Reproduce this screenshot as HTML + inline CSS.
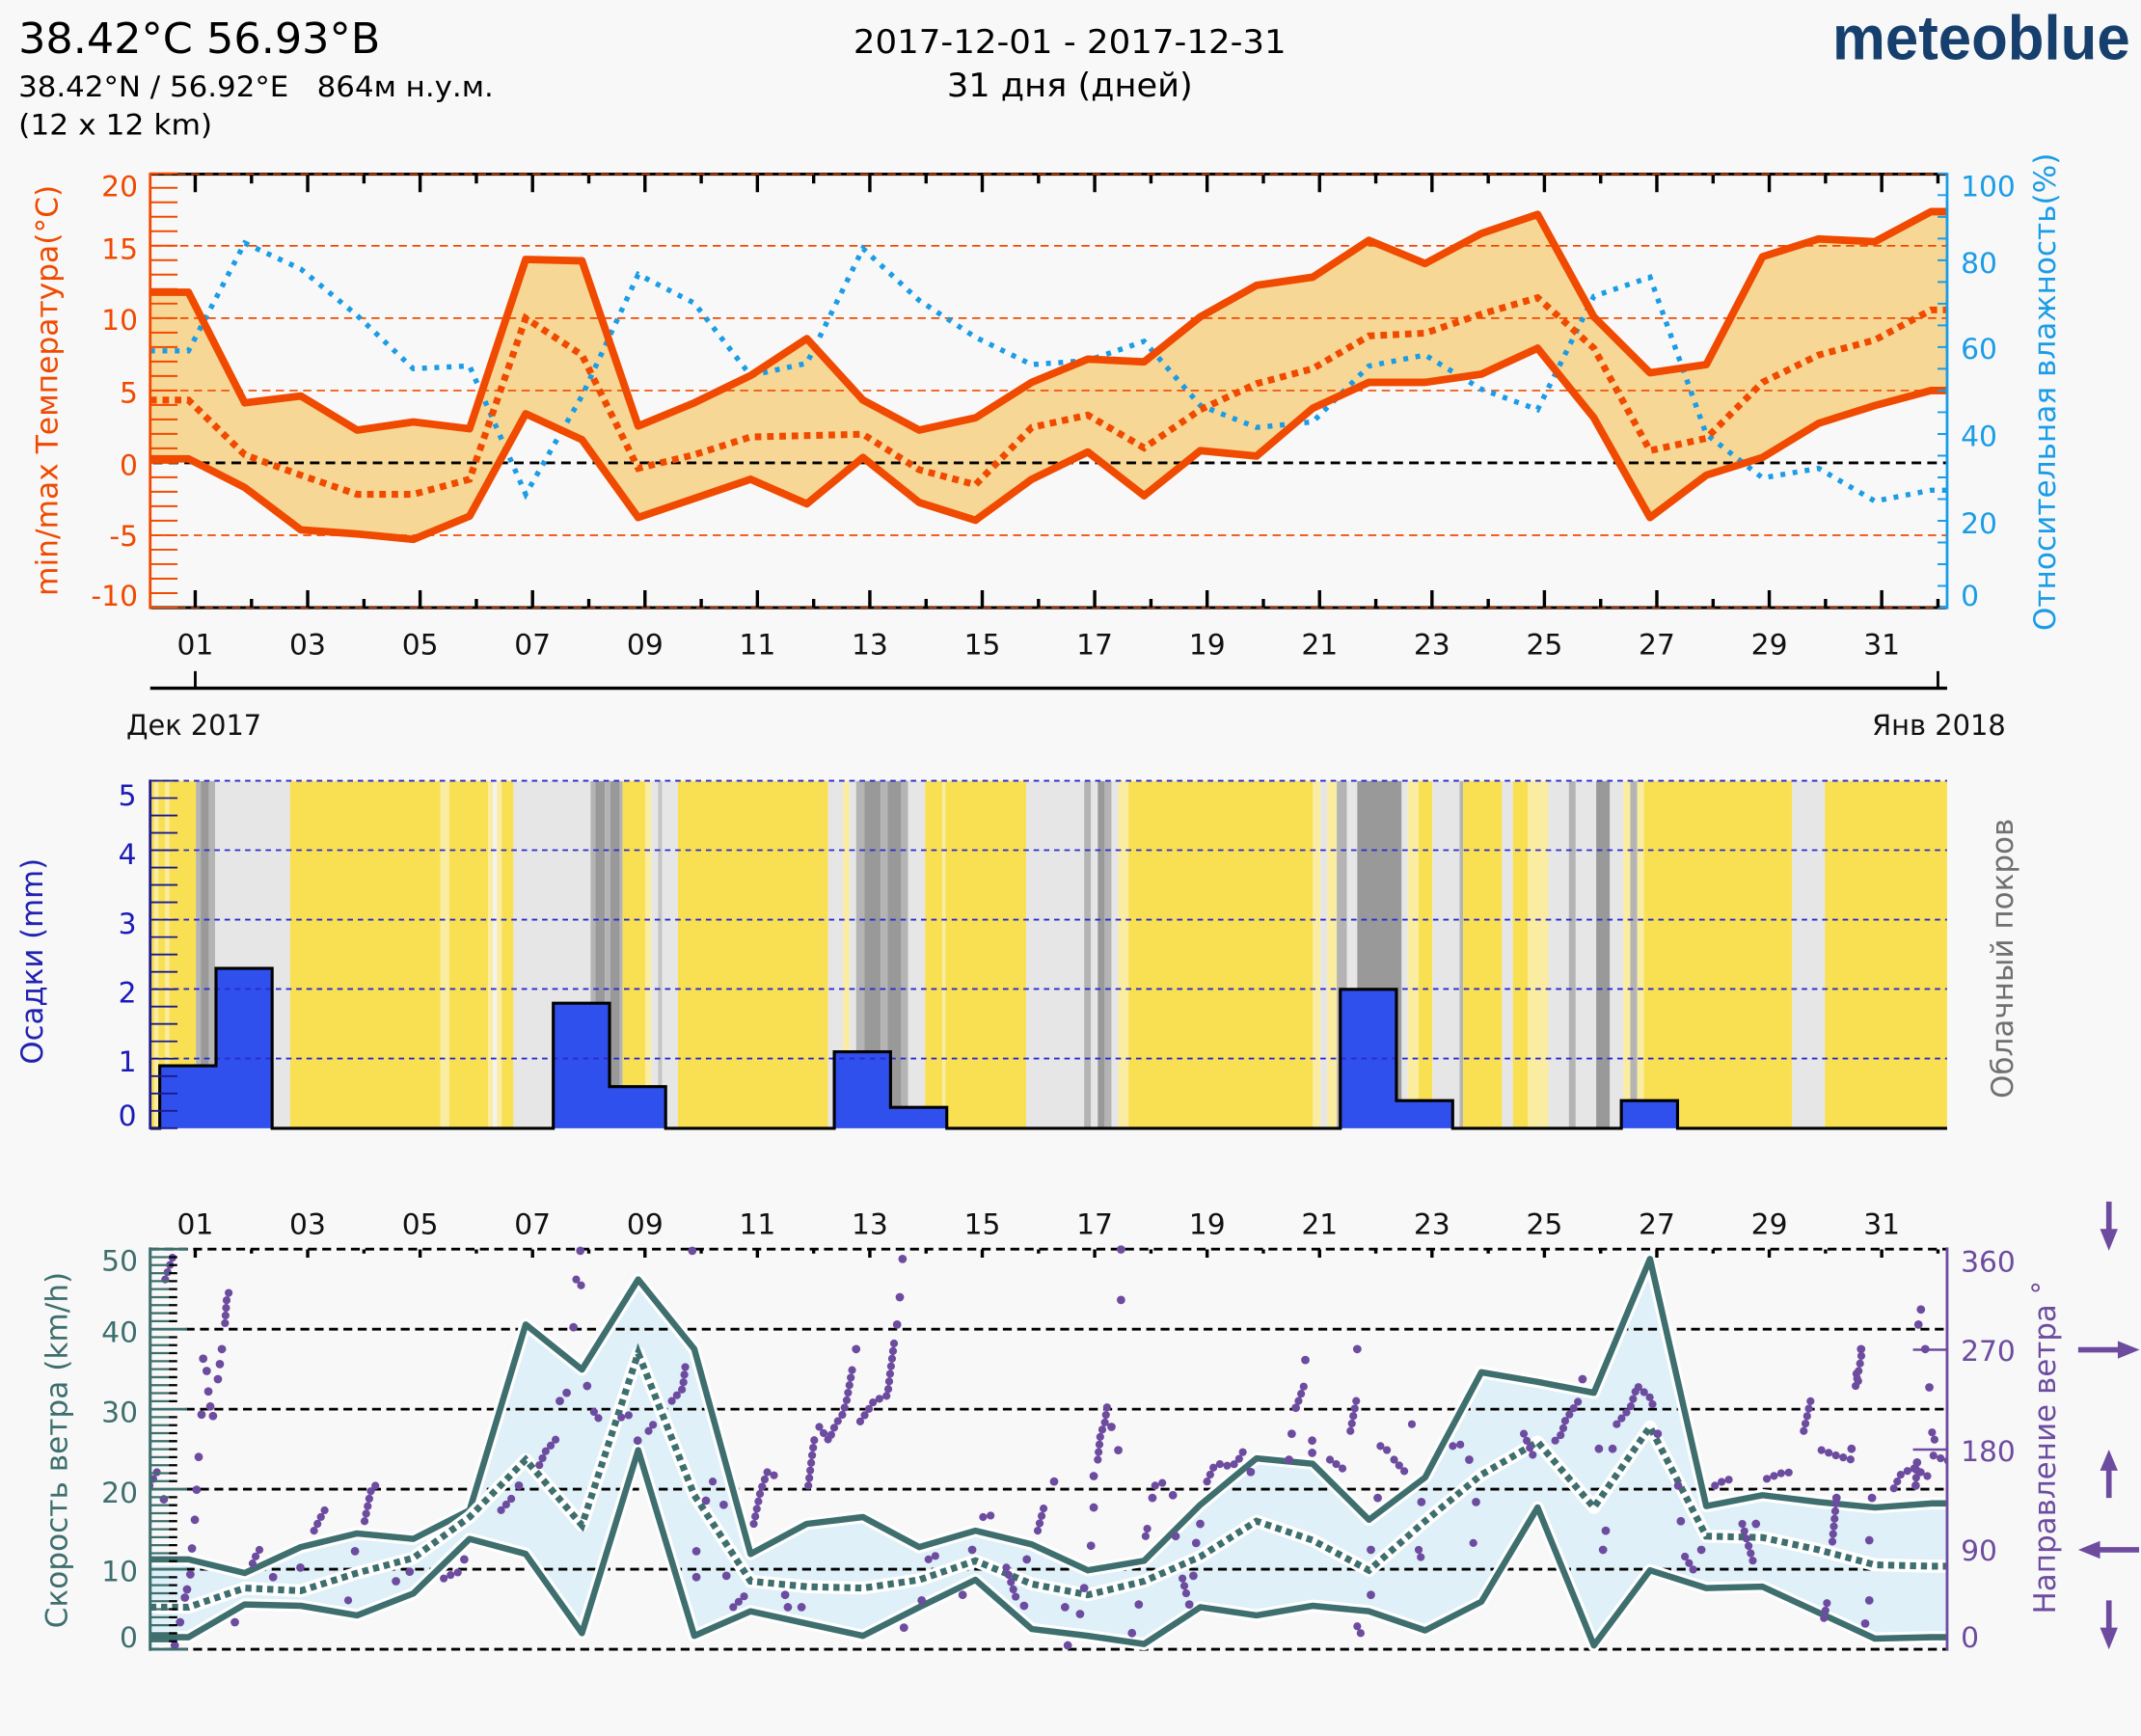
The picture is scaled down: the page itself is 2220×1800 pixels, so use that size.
<!DOCTYPE html>
<html><head><meta charset="utf-8"><style>
html,body{margin:0;padding:0;background:#f8f8f8;}
svg{display:block;}
text{font-family:"DejaVu Sans","Liberation Sans",sans-serif;}
</style></head><body>
<svg xmlns="http://www.w3.org/2000/svg" width="2220" height="1800" viewBox="0 0 1568 1271.35" preserveAspectRatio="none">
<defs>
<clipPath id="cw"><rect x="110" y="912" width="1316" height="298"/></clipPath>
</defs>
<rect width="1568" height="1271.35" fill="#f8f8f8"/>

<!-- HEADER -->
<text x="13.5" y="38.8" font-size="31" textLength="265" lengthAdjust="spacingAndGlyphs" fill="#000">38.42°C 56.93°B</text>
<text x="13.5" y="70.6" font-size="21" textLength="348" lengthAdjust="spacingAndGlyphs" fill="#000" style="white-space:pre">38.42°N / 56.92°E   864м н.у.м.</text>
<text x="13.5" y="98.4" font-size="21" textLength="142" lengthAdjust="spacingAndGlyphs" fill="#000">(12 x 12 km)</text>
<text x="783.5" y="38.8" text-anchor="middle" font-size="24" textLength="317" lengthAdjust="spacingAndGlyphs" fill="#000">2017-12-01 - 2017-12-31</text>
<text x="783.5" y="70.6" text-anchor="middle" font-size="24" textLength="180" lengthAdjust="spacingAndGlyphs" fill="#000">31 дня (дней)</text>
<text x="1342" y="43.6" font-weight="bold" font-size="46" textLength="218" lengthAdjust="spacingAndGlyphs" fill="#163f6e" style="font-family:'Liberation Sans',sans-serif">meteoblue</text>

<!-- ========== TOP CHART ========== -->
<polygon fill="#f7d795" points="110,214 138,214 179.2,295 220.3,290 261.5,315 302.7,309 343.9,314 385,190 426.2,191 467.4,312 508.5,295 549.7,275 590.9,248 632,293 673.2,315 714.4,306 755.6,280 796.7,263 837.9,265 879.1,232 920.2,209 961.4,203 1002.6,176 1043.7,193 1084.9,171 1126.1,157 1167.3,232 1208.4,273 1249.6,267 1290.8,188 1331.9,175 1373.1,177 1414.3,155 1426,155 1426,286 1414.3,286 1373.1,297 1331.9,310 1290.8,335 1249.6,348 1208.4,379 1167.3,306 1126.1,255 1084.9,274 1043.7,280 1002.6,280 961.4,299 920.2,334 879.1,330 837.9,363 796.7,331 755.6,351 714.4,381 673.2,368 632,335 590.9,369 549.7,351 508.5,365 467.4,379 426.2,322 385,303 343.9,378 302.7,395 261.5,391 220.3,388 179.2,357 138,336 110,336"/>
<g stroke="#f04a00" stroke-width="1.2" stroke-dasharray="6 4" fill="none">
<line x1="112" y1="180" x2="1426" y2="180"/>
<line x1="112" y1="233" x2="1426" y2="233"/>
<line x1="112" y1="286" x2="1426" y2="286"/>
<line x1="112" y1="392" x2="1426" y2="392"/>
</g>
<line x1="112" y1="339" x2="1426" y2="339" stroke="#000" stroke-width="2" stroke-dasharray="7 4.5"/>
<polyline fill="none" stroke="#1b9ce6" stroke-width="3.8" stroke-dasharray="3.5 5.5" points="110,257 138,257 179.2,178 220.3,197 261.5,231 302.7,270 343.9,268 385,362 426.2,290 467.4,201 508.5,222 549.7,275 590.9,266 632,182 673.2,220 714.4,247 755.6,267 796.7,264 837.9,250 879.1,297 920.2,313 961.4,309 1002.6,268 1043.7,260 1084.9,285 1126.1,300 1167.3,217 1208.4,203 1249.6,318 1290.8,350 1331.9,343 1373.1,367 1414.3,359 1426,359"/>
<polyline fill="none" stroke="#f04a00" stroke-width="5.5" stroke-linejoin="round" points="110,214 138,214 179.2,295 220.3,290 261.5,315 302.7,309 343.9,314 385,190 426.2,191 467.4,312 508.5,295 549.7,275 590.9,248 632,293 673.2,315 714.4,306 755.6,280 796.7,263 837.9,265 879.1,232 920.2,209 961.4,203 1002.6,176 1043.7,193 1084.9,171 1126.1,157 1167.3,232 1208.4,273 1249.6,267 1290.8,188 1331.9,175 1373.1,177 1414.3,155 1426,155"/>
<polyline fill="none" stroke="#f04a00" stroke-width="5.5" stroke-linejoin="round" points="110,336 138,336 179.2,357 220.3,388 261.5,391 302.7,395 343.9,378 385,303 426.2,322 467.4,379 508.5,365 549.7,351 590.9,369 632,335 673.2,368 714.4,381 755.6,351 796.7,331 837.9,363 879.1,330 920.2,334 961.4,299 1002.6,280 1043.7,280 1084.9,274 1126.1,255 1167.3,306 1208.4,379 1249.6,348 1290.8,335 1331.9,310 1373.1,297 1414.3,286 1426,286"/>
<polyline fill="none" stroke="#f04a00" stroke-width="5" stroke-dasharray="4.8 4.2" points="110,293 138,293 179.2,333 220.3,348 261.5,362 302.7,362 343.9,351 385,233 426.2,260 467.4,343 508.5,333 549.7,320 590.9,319 632,318 673.2,344 714.4,355 755.6,313 796.7,304 837.9,328 879.1,300 920.2,281 961.4,270 1002.6,246 1043.7,244 1084.9,230 1126.1,218 1167.3,255 1208.4,330 1249.6,321 1290.8,280 1331.9,260 1373.1,249 1414.3,227 1426,227"/>
<line x1="110" y1="127.5" x2="1426" y2="127.5" stroke="#000" stroke-width="2.2"/>
<line x1="110" y1="127.5" x2="1426" y2="127.5" stroke="#f04a00" stroke-width="1" stroke-dasharray="6 4"/>
<line x1="110" y1="445" x2="1426" y2="445" stroke="#000" stroke-width="2.2"/>
<line x1="110" y1="445" x2="1426" y2="445" stroke="#f04a00" stroke-width="1" stroke-dasharray="6 4"/>
<line x1="110" y1="126.5" x2="110" y2="446" stroke="#f04a00" stroke-width="2"/>
<line x1="1426" y1="126.5" x2="1426" y2="446" stroke="#1b9ce6" stroke-width="2"/>
<line x1="120" y1="126.25" x2="120" y2="446" stroke="#f04a00" stroke-width="20" stroke-dasharray="1.4 9.2"/>
<line x1="1422.5" y1="126.3" x2="1422.5" y2="446" stroke="#1b9ce6" stroke-width="7" stroke-dasharray="1.4 14.5"/>
<g stroke="#000" stroke-dasharray="2.4 79.94">
<line x1="141.8" y1="134.35" x2="1426" y2="134.35" stroke-width="12.7"/>
<line x1="183" y1="131.2" x2="1426" y2="131.2" stroke-width="6.4"/>
<line x1="141.8" y1="438.65" x2="1426" y2="438.65" stroke-width="12.7"/>
<line x1="183" y1="441.8" x2="1426" y2="441.8" stroke-width="6.4"/>
</g>
<g font-size="21" fill="#f04a00" text-anchor="end" dominant-baseline="central">
<text x="101" y="137">20</text><text x="101" y="183">15</text><text x="101" y="235">10</text><text x="101" y="288">5</text><text x="101" y="341">0</text><text x="101" y="393">-5</text><text x="101" y="437">-10</text>
</g>
<g font-size="21" fill="#1b9ce6" dominant-baseline="central">
<text x="1436" y="137">100</text><text x="1436" y="193">80</text><text x="1436" y="256">60</text><text x="1436" y="320">40</text><text x="1436" y="384">20</text><text x="1436" y="437">0</text>
</g>
<text transform="translate(35,286) rotate(-90)" text-anchor="middle" dominant-baseline="central" font-size="22" textLength="301" lengthAdjust="spacingAndGlyphs" fill="#f04a00">min/max Температура(°C)</text>
<text transform="translate(1498,287) rotate(-90)" text-anchor="middle" dominant-baseline="central" font-size="22" textLength="350" lengthAdjust="spacingAndGlyphs" fill="#1b9ce6">Относительная влажность(%)</text>

<g font-size="21" fill="#111" text-anchor="middle" dominant-baseline="central">
<text x="143" y="472.6">01</text><text x="225.3" y="472.6">03</text><text x="307.7" y="472.6">05</text><text x="390" y="472.6">07</text><text x="472.4" y="472.6">09</text><text x="554.7" y="472.6">11</text><text x="637" y="472.6">13</text><text x="719.4" y="472.6">15</text><text x="801.7" y="472.6">17</text><text x="884.1" y="472.6">19</text><text x="966.4" y="472.6">21</text><text x="1048.7" y="472.6">23</text><text x="1131.1" y="472.6">25</text><text x="1213.4" y="472.6">27</text><text x="1295.8" y="472.6">29</text><text x="1378.1" y="472.6">31</text>
</g>
<line x1="110" y1="504" x2="1426" y2="504" stroke="#000" stroke-width="2.4"/>
<line x1="143" y1="491.5" x2="143" y2="504" stroke="#000" stroke-width="2"/>
<line x1="1419.3" y1="491.5" x2="1419.3" y2="504" stroke="#000" stroke-width="2"/>
<text x="142" y="531.5" font-size="21" text-anchor="middle" dominant-baseline="central" textLength="99" lengthAdjust="spacingAndGlyphs" fill="#111">Дек 2017</text>
<text x="1420" y="531.5" font-size="21" text-anchor="middle" dominant-baseline="central" textLength="98" lengthAdjust="spacingAndGlyphs" fill="#111">Янв 2018</text>

<!-- ========== MIDDLE CHART ========== -->
<g>
<rect x="110" y="572" width="3" height="254" fill="#f9e052"/>
<rect x="113" y="572" width="3" height="254" fill="#faeca0"/>
<rect x="116" y="572" width="5" height="254" fill="#f9e052"/>
<rect x="121" y="572" width="3" height="254" fill="#faeca0"/>
<rect x="124" y="572" width="19.5" height="254" fill="#f9e052"/>
<rect x="143.5" y="572" width="3.5" height="254" fill="#b4b4b4"/>
<rect x="147" y="572" width="6" height="254" fill="#999999"/>
<rect x="153" y="572" width="4.5" height="254" fill="#b4b4b4"/>
<rect x="157.5" y="572" width="55" height="254" fill="#e6e6e6"/>
<rect x="212.5" y="572" width="110" height="254" fill="#f9e052"/>
<rect x="322.5" y="572" width="6.5" height="254" fill="#faeca0"/>
<rect x="329" y="572" width="28.5" height="254" fill="#f9e052"/>
<rect x="357.5" y="572" width="3.5" height="254" fill="#faeca0"/>
<rect x="361" y="572" width="3" height="254" fill="#f2f2ee"/>
<rect x="364" y="572" width="3.5" height="254" fill="#faeca0"/>
<rect x="367.5" y="572" width="8.5" height="254" fill="#f9e052"/>
<rect x="376" y="572" width="56.5" height="254" fill="#e6e6e6"/>
<rect x="432.5" y="572" width="3.5" height="254" fill="#b4b4b4"/>
<rect x="436" y="572" width="7" height="254" fill="#999999"/>
<rect x="443" y="572" width="4" height="254" fill="#b4b4b4"/>
<rect x="447" y="572" width="7" height="254" fill="#999999"/>
<rect x="454" y="572" width="2" height="254" fill="#b4b4b4"/>
<rect x="456" y="572" width="16.5" height="254" fill="#f9e052"/>
<rect x="472.5" y="572" width="4.5" height="254" fill="#faeca0"/>
<rect x="477" y="572" width="5" height="254" fill="#e6e6e6"/>
<rect x="482" y="572" width="3" height="254" fill="#c4c4c4"/>
<rect x="485" y="572" width="11.5" height="254" fill="#e6e6e6"/>
<rect x="496.5" y="572" width="110" height="254" fill="#f9e052"/>
<rect x="606.5" y="572" width="11" height="254" fill="#e6e6e6"/>
<rect x="617.5" y="572" width="4.5" height="254" fill="#faeca0"/>
<rect x="622" y="572" width="5" height="254" fill="#e6e6e6"/>
<rect x="627" y="572" width="6" height="254" fill="#b4b4b4"/>
<rect x="633" y="572" width="12" height="254" fill="#999999"/>
<rect x="645" y="572" width="5" height="254" fill="#b4b4b4"/>
<rect x="650" y="572" width="10" height="254" fill="#999999"/>
<rect x="660" y="572" width="5" height="254" fill="#b4b4b4"/>
<rect x="665" y="572" width="12.5" height="254" fill="#e6e6e6"/>
<rect x="677.5" y="572" width="12.5" height="254" fill="#f9e052"/>
<rect x="690" y="572" width="2.5" height="254" fill="#faeca0"/>
<rect x="692.5" y="572" width="59" height="254" fill="#f9e052"/>
<rect x="751.5" y="572" width="42.5" height="254" fill="#e6e6e6"/>
<rect x="794" y="572" width="5" height="254" fill="#b4b4b4"/>
<rect x="799" y="572" width="5" height="254" fill="#e6e6e6"/>
<rect x="804" y="572" width="5" height="254" fill="#999999"/>
<rect x="809" y="572" width="5" height="254" fill="#b4b4b4"/>
<rect x="814" y="572" width="5" height="254" fill="#e6e6e6"/>
<rect x="819" y="572" width="7.5" height="254" fill="#faeca0"/>
<rect x="826.5" y="572" width="135" height="254" fill="#f9e052"/>
<rect x="961.5" y="572" width="5.5" height="254" fill="#faeca0"/>
<rect x="967" y="572" width="5" height="254" fill="#e6e6e6"/>
<rect x="972" y="572" width="7" height="254" fill="#faeca0"/>
<rect x="979" y="572" width="7.5" height="254" fill="#b4b4b4"/>
<rect x="986.5" y="572" width="7.5" height="254" fill="#e6e6e6"/>
<rect x="994" y="572" width="32.5" height="254" fill="#999999"/>
<rect x="1026.5" y="572" width="4.5" height="254" fill="#e6e6e6"/>
<rect x="1031" y="572" width="8" height="254" fill="#faeca0"/>
<rect x="1039" y="572" width="10" height="254" fill="#f9e052"/>
<rect x="1049" y="572" width="20" height="254" fill="#e6e6e6"/>
<rect x="1069" y="572" width="2.5" height="254" fill="#b4b4b4"/>
<rect x="1071.5" y="572" width="28.5" height="254" fill="#f9e052"/>
<rect x="1100" y="572" width="8" height="254" fill="#e6e6e6"/>
<rect x="1108" y="572" width="11" height="254" fill="#f9e052"/>
<rect x="1119" y="572" width="15" height="254" fill="#faeca0"/>
<rect x="1134" y="572" width="15" height="254" fill="#e6e6e6"/>
<rect x="1149" y="572" width="5" height="254" fill="#b4b4b4"/>
<rect x="1154" y="572" width="15" height="254" fill="#e6e6e6"/>
<rect x="1169" y="572" width="10" height="254" fill="#999999"/>
<rect x="1179" y="572" width="10" height="254" fill="#e6e6e6"/>
<rect x="1189" y="572" width="5" height="254" fill="#faeca0"/>
<rect x="1194" y="572" width="5" height="254" fill="#b4b4b4"/>
<rect x="1199" y="572" width="5" height="254" fill="#faeca0"/>
<rect x="1204" y="572" width="108.5" height="254" fill="#f9e052"/>
<rect x="1312.5" y="572" width="24" height="254" fill="#e6e6e6"/>
<rect x="1336.5" y="572" width="89.5" height="254" fill="#f9e052"/>
</g>
<path fill="#3050ee" d="M117,826.3 V780.5 H158.2 V709.2 H199.3 V826.3 Z M405.2,826.3 V734.7 H446.4 V795.8 H487.5 V826.3 Z M611,826.3 V770.3 H652.2 V811 H693.4 V826.3 Z M981.6,826.3 V724.5 H1022.7 V806 H1063.9 V826.3 Z M1187.4,826.3 V806 H1228.6 V826.3 Z"/>
<g stroke="#2a2ad0" stroke-width="1.3" stroke-dasharray="4 3.5" fill="none">
<line x1="112" y1="571.8" x2="1426" y2="571.8"/>
<line x1="112" y1="622.6" x2="1426" y2="622.6"/>
<line x1="112" y1="673.5" x2="1426" y2="673.5"/>
<line x1="112" y1="724.3" x2="1426" y2="724.3"/>
<line x1="112" y1="775.2" x2="1426" y2="775.2"/>
</g>
<path fill="none" stroke="#000" stroke-width="2.2" d="M110,826.3 H117 V780.5 H158.2 V709.2 H199.3 V826.3 H405.2 V734.7 H446.4 V795.8 H487.5 V826.3 H611 V770.3 H652.2 V811 H693.4 V826.3 H981.6 V724.5 H1022.7 V806 H1063.9 V826.3 H1187.4 V806 H1228.6 V826.3 H1426"/>
<line x1="110" y1="571" x2="110" y2="827" stroke="#1a1a8c" stroke-width="2"/>
<line x1="120" y1="571.1" x2="120" y2="827" stroke="#1a1a8c" stroke-width="20" stroke-dasharray="1.3 11.425"/>
<g font-size="21" fill="#1a1ab8" text-anchor="end" dominant-baseline="central">
<text x="100" y="583">5</text><text x="100" y="626">4</text><text x="100" y="677">3</text><text x="100" y="727.5">2</text><text x="100" y="778">1</text><text x="100" y="817.5">0</text>
</g>
<text transform="translate(24,704) rotate(-90)" text-anchor="middle" dominant-baseline="central" font-size="22" textLength="151" lengthAdjust="spacingAndGlyphs" fill="#2222b0">Осадки (mm)</text>
<text transform="translate(1467,702) rotate(-90)" text-anchor="middle" dominant-baseline="central" font-size="22" textLength="205" lengthAdjust="spacingAndGlyphs" fill="#707070">Облачный покров</text>

<!-- ========== BOTTOM CHART ========== -->
<g font-size="21" fill="#111" text-anchor="middle" dominant-baseline="central">
<text x="143" y="897">01</text><text x="225.3" y="897">03</text><text x="307.7" y="897">05</text><text x="390" y="897">07</text><text x="472.4" y="897">09</text><text x="554.7" y="897">11</text><text x="637" y="897">13</text><text x="719.4" y="897">15</text><text x="801.7" y="897">17</text><text x="884.1" y="897">19</text><text x="966.4" y="897">21</text><text x="1048.7" y="897">23</text><text x="1131.1" y="897">25</text><text x="1213.4" y="897">27</text><text x="1295.8" y="897">29</text><text x="1378.1" y="897">31</text>
</g>
<polygon fill="#dff0f8" points="110,1142 138,1142 179.2,1152 220.3,1133 261.5,1123 302.7,1127 343.9,1106 385,970 426.2,1003 467.4,937 508.5,988 549.7,1138 590.9,1116 632,1111 673.2,1133 714.4,1121 755.6,1131 796.7,1150 837.9,1143 879.1,1102 920.2,1068 961.4,1072 1002.6,1113 1043.7,1082 1084.9,1005 1126.1,1012 1167.3,1020 1208.4,922 1249.6,1103 1290.8,1095 1331.9,1100 1373.1,1104 1414.3,1101 1426,1101 1426,1199 1414.3,1199 1373.1,1200 1331.9,1181 1290.8,1162 1249.6,1163 1208.4,1150 1167.3,1205 1126.1,1104 1084.9,1173 1043.7,1194 1002.6,1180 961.4,1176 920.2,1183 879.1,1177 837.9,1204 796.7,1198 755.6,1193 714.4,1157 673.2,1177 632,1198 590.9,1189 549.7,1180 508.5,1198 467.4,1062 426.2,1196 385,1138 343.9,1127 302.7,1167 261.5,1183 220.3,1176 179.2,1175 138,1199 110,1199"/>
<g stroke="#000" stroke-width="2" stroke-dasharray="6.5 4" fill="none">
<line x1="136" y1="973.4" x2="1426" y2="973.4"/>
<line x1="136" y1="1032" x2="1426" y2="1032"/>
<line x1="136" y1="1090.6" x2="1426" y2="1090.6"/>
<line x1="136" y1="1149.2" x2="1426" y2="1149.2"/>
<line x1="110" y1="914.8" x2="1426" y2="914.8"/>
<line x1="110" y1="1207.8" x2="1426" y2="1207.8"/>
</g>
<g fill="none" stroke-linejoin="round">
<polyline stroke="#ffffff" stroke-width="9" points="110,1142 138,1142 179.2,1152 220.3,1133 261.5,1123 302.7,1127 343.9,1106 385,970 426.2,1003 467.4,937 508.5,988 549.7,1138 590.9,1116 632,1111 673.2,1133 714.4,1121 755.6,1131 796.7,1150 837.9,1143 879.1,1102 920.2,1068 961.4,1072 1002.6,1113 1043.7,1082 1084.9,1005 1126.1,1012 1167.3,1020 1208.4,922 1249.6,1103 1290.8,1095 1331.9,1100 1373.1,1104 1414.3,1101 1426,1101"/>
<polyline stroke="#ffffff" stroke-width="9" points="110,1199 138,1199 179.2,1175 220.3,1176 261.5,1183 302.7,1167 343.9,1127 385,1138 426.2,1196 467.4,1062 508.5,1198 549.7,1180 590.9,1189 632,1198 673.2,1177 714.4,1157 755.6,1193 796.7,1198 837.9,1204 879.1,1177 920.2,1183 961.4,1176 1002.6,1180 1043.7,1194 1084.9,1173 1126.1,1104 1167.3,1205 1208.4,1150 1249.6,1163 1290.8,1162 1331.9,1181 1373.1,1200 1414.3,1199 1426,1199"/>
<polyline stroke="#3e6f6e" stroke-width="4.6" points="110,1142 138,1142 179.2,1152 220.3,1133 261.5,1123 302.7,1127 343.9,1106 385,970 426.2,1003 467.4,937 508.5,988 549.7,1138 590.9,1116 632,1111 673.2,1133 714.4,1121 755.6,1131 796.7,1150 837.9,1143 879.1,1102 920.2,1068 961.4,1072 1002.6,1113 1043.7,1082 1084.9,1005 1126.1,1012 1167.3,1020 1208.4,922 1249.6,1103 1290.8,1095 1331.9,1100 1373.1,1104 1414.3,1101 1426,1101"/>
<polyline stroke="#3e6f6e" stroke-width="4.6" points="110,1199 138,1199 179.2,1175 220.3,1176 261.5,1183 302.7,1167 343.9,1127 385,1138 426.2,1196 467.4,1062 508.5,1198 549.7,1180 590.9,1189 632,1198 673.2,1177 714.4,1157 755.6,1193 796.7,1198 837.9,1204 879.1,1177 920.2,1183 961.4,1176 1002.6,1180 1043.7,1194 1084.9,1173 1126.1,1104 1167.3,1205 1208.4,1150 1249.6,1163 1290.8,1162 1331.9,1181 1373.1,1200 1414.3,1199 1426,1199"/>
<polyline stroke="#ffffff" stroke-width="9.5" points="110,1177 138,1177 179.2,1163 220.3,1165 261.5,1152 302.7,1141 343.9,1111 385,1069 426.2,1117 467.4,991 508.5,1095 549.7,1158 590.9,1162 632,1163 673.2,1157 714.4,1143 755.6,1160 796.7,1168 837.9,1158 879.1,1140 920.2,1114 961.4,1128 1002.6,1150 1043.7,1114 1084.9,1080 1126.1,1056 1167.3,1104 1208.4,1045 1249.6,1125 1290.8,1126 1331.9,1135 1373.1,1146 1414.3,1147 1426,1147"/>
<polyline stroke="#3e6f6e" stroke-width="5" stroke-dasharray="4.5 3.5" stroke-linejoin="miter" points="110,1177 138,1177 179.2,1163 220.3,1165 261.5,1152 302.7,1141 343.9,1111 385,1069 426.2,1117 467.4,991 508.5,1095 549.7,1158 590.9,1162 632,1163 673.2,1157 714.4,1143 755.6,1160 796.7,1168 837.9,1158 879.1,1140 920.2,1114 961.4,1128 1002.6,1150 1043.7,1114 1084.9,1080 1126.1,1056 1167.3,1104 1208.4,1045 1249.6,1125 1290.8,1126 1331.9,1135 1373.1,1146 1414.3,1147 1426,1147"/>
</g>
<g clip-path="url(#cw)">
<g fill="none" stroke="#6d4c9f" stroke-width="5.8" stroke-linecap="round" stroke-dasharray="0 5.6">
<polyline points="109.5,1088 115,1078 120,1080"/>
<polyline points="121,937 123.6,929 127,919"/>
<polyline points="164.8,969 166,952 167,948 169.5,942"/>
<polyline points="185,1145 188,1138 192,1132"/>
<polyline points="230,1121 235,1111 240,1102"/>
<polyline points="255,1172 257,1168"/>
<polyline points="267,1114 272,1090 275,1088"/>
<polyline points="325,1156 331,1153 337,1151"/>
<polyline points="367,1106 375,1097"/>
<polyline points="395,1073 400,1062 405,1057 410,1050"/>
<polyline points="422,937 427,943"/>
<polyline points="435,1034 440,1041"/>
<polyline points="455,1038 462,1036"/>
<polyline points="475,1048 480,1041"/>
<polyline points="492,1026 500,1017 502,1000"/>
<polyline points="522,1085 525,1083"/>
<polyline points="537,1177 545,1169"/>
<polyline points="552,1116 557,1092 562,1078 570,1082"/>
<polyline points="592,1088 595,1064 597,1050"/>
<polyline points="600,1045 607,1055 612,1043 617,1036 620,1026 622,1015 625,998"/>
<polyline points="630,1041 635,1034 640,1026 650,1022 652,1005 655,982"/>
<polyline points="680,1142 690,1137"/>
<polyline points="720,1111 730,1109"/>
<polyline points="737,1148 745,1173"/>
<polyline points="760,1121 765,1102"/>
<polyline points="804,1069 806,1050 809,1043 811,1029"/>
<polyline points="839,1125 841,1116"/>
<polyline points="846,1088 854,1085"/>
<polyline points="866,1156 869,1168"/>
<polyline points="884,1085 889,1074 894,1072 901,1074 906,1071 911,1062"/>
<polyline points="951,1026 956,1012"/>
<polyline points="974,1069 984,1076"/>
<polyline points="989,1048 994,1022"/>
<polyline points="994,1191 999,1201"/>
<polyline points="1011,1059 1019,1064"/>
<polyline points="1021,1069 1029,1078"/>
<polyline points="1034,1043 1036,1048"/>
<polyline points="1039,1135 1041,1142"/>
<polyline points="1064,1059 1074,1057"/>
<polyline points="1079,1130 1081,1135"/>
<polyline points="1116,1050 1124,1069"/>
<polyline points="1139,1055 1144,1050 1146,1041 1156,1026"/>
<polyline points="1184,1043 1194,1031 1199,1015 1209,1024 1211,1031"/>
<polyline points="1234,1140 1241,1151"/>
<polyline points="1256,1088 1263,1084 1271,1083"/>
<polyline points="1276,1116 1280,1130 1284,1144"/>
<polyline points="1294,1083 1304,1079 1314,1078"/>
<polyline points="1321,1048 1326,1026"/>
<polyline points="1334,1062 1345,1066 1356,1069"/>
<polyline points="1359,1015 1362,1000 1364,988"/>
<polyline points="1387,1090 1392,1080 1401,1075 1410,1080 1416,1084"/>
<polyline points="1416,1066 1424,1069 1432,1071"/>
<polyline points="1404,1071 1403,1088"/>
<polyline points="1338,1174 1335,1189"/>
<polyline points="1342,1129 1345,1097"/>
<polyline points="1415,1049 1417,1055"/>
<polyline points="1359.6,1006 1362,1016"/>
</g>
<g fill="#6d4c9f">
<circle cx="120" cy="1098" r="3.1"/><circle cx="145.5" cy="1067" r="3.1"/><circle cx="144" cy="1091" r="3.1"/><circle cx="142.7" cy="1113" r="3.1"/><circle cx="140.6" cy="1134" r="3.1"/><circle cx="139.4" cy="1153" r="3.1"/><circle cx="137" cy="1164" r="3.1"/><circle cx="135.4" cy="1170" r="3.1"/><circle cx="131.9" cy="1188" r="3.1"/><circle cx="128" cy="1205" r="3.1"/>
<circle cx="148.8" cy="995" r="3.1"/><circle cx="151.4" cy="1004" r="3.1"/><circle cx="159.6" cy="1010" r="3.1"/><circle cx="152.6" cy="1019" r="3.1"/><circle cx="154" cy="1030" r="3.1"/><circle cx="156" cy="1037" r="3.1"/><circle cx="147.6" cy="1036" r="3.1"/><circle cx="161" cy="999" r="3.1"/><circle cx="162.5" cy="988" r="3.1"/>
<circle cx="172" cy="1188" r="3.1"/><circle cx="200" cy="1155" r="3.1"/><circle cx="220" cy="1148" r="3.1"/><circle cx="260" cy="1136" r="3.1"/><circle cx="290" cy="1158" r="3.1"/><circle cx="300" cy="1151" r="3.1"/><circle cx="340" cy="1142" r="3.1"/><circle cx="380" cy="1088" r="3.1"/><circle cx="410" cy="1026" r="3.1"/><circle cx="415" cy="1020" r="3.1"/><circle cx="420" cy="972" r="3.1"/><circle cx="425" cy="916" r="3.1"/><circle cx="430" cy="1015" r="3.1"/><circle cx="467" cy="1055" r="3.1"/><circle cx="507" cy="916" r="3.1"/><circle cx="510" cy="1136" r="3.1"/><circle cx="510" cy="1155" r="3.1"/><circle cx="517" cy="1099" r="3.1"/><circle cx="530" cy="1102" r="3.1"/><circle cx="532" cy="1154" r="3.1"/><circle cx="575" cy="1168" r="3.1"/><circle cx="577" cy="1177" r="3.1"/><circle cx="587" cy="1177" r="3.1"/><circle cx="627" cy="988" r="3.1"/><circle cx="657" cy="970" r="3.1"/><circle cx="659" cy="950" r="3.1"/><circle cx="661" cy="922" r="3.1"/><circle cx="662" cy="1192" r="3.1"/><circle cx="675" cy="1172" r="3.1"/><circle cx="705" cy="1168" r="3.1"/><circle cx="712" cy="1135" r="3.1"/><circle cx="750" cy="1176" r="3.1"/><circle cx="752" cy="1142" r="3.1"/><circle cx="772" cy="1085" r="3.1"/><circle cx="780" cy="1177" r="3.1"/><circle cx="782" cy="1205" r="3.1"/>
<circle cx="791" cy="1182" r="3.1"/><circle cx="794" cy="1163" r="3.1"/><circle cx="799" cy="1132" r="3.1"/><circle cx="801" cy="1104" r="3.1"/><circle cx="801" cy="1081" r="3.1"/><circle cx="814" cy="1045" r="3.1"/><circle cx="819" cy="1062" r="3.1"/><circle cx="821" cy="952" r="3.1"/><circle cx="821" cy="915" r="3.1"/><circle cx="829" cy="1196" r="3.1"/><circle cx="834" cy="1175" r="3.1"/><circle cx="844" cy="1097" r="3.1"/><circle cx="859" cy="1095" r="3.1"/><circle cx="861" cy="1125" r="3.1"/><circle cx="871" cy="1175" r="3.1"/><circle cx="874" cy="1154" r="3.1"/><circle cx="876" cy="1130" r="3.1"/><circle cx="879" cy="1116" r="3.1"/><circle cx="916" cy="1078" r="3.1"/><circle cx="944" cy="1069" r="3.1"/><circle cx="946" cy="1050" r="3.1"/><circle cx="949" cy="1031" r="3.1"/><circle cx="956" cy="996" r="3.1"/><circle cx="961" cy="1055" r="3.1"/><circle cx="961" cy="1064" r="3.1"/><circle cx="994" cy="988" r="3.1"/><circle cx="1004" cy="1135" r="3.1"/><circle cx="1004" cy="1168" r="3.1"/><circle cx="1009" cy="1097" r="3.1"/><circle cx="1041" cy="1100" r="3.1"/><circle cx="1076" cy="1069" r="3.1"/><circle cx="1081" cy="1100" r="3.1"/><circle cx="1159" cy="1010" r="3.1"/><circle cx="1171" cy="1061" r="3.1"/><circle cx="1181" cy="1061" r="3.1"/><circle cx="1174" cy="1135" r="3.1"/><circle cx="1176" cy="1121" r="3.1"/><circle cx="1214" cy="1050" r="3.1"/><circle cx="1229" cy="1088" r="3.1"/><circle cx="1231" cy="1114" r="3.1"/><circle cx="1246" cy="1135" r="3.1"/><circle cx="1286" cy="1116" r="3.1"/><circle cx="1363" cy="988" r="3.1"/><circle cx="1371" cy="1097" r="3.1"/><circle cx="1369" cy="1128" r="3.1"/><circle cx="1369" cy="1172" r="3.1"/><circle cx="1366" cy="1189" r="3.1"/><circle cx="1406.8" cy="959" r="3.1"/><circle cx="1405" cy="970" r="3.1"/><circle cx="1410" cy="988" r="3.1"/><circle cx="1413" cy="1016" r="3.1"/><circle cx="1404" cy="1071" r="3.1"/><circle cx="1403" cy="1088" r="3.1"/><circle cx="1345" cy="1097" r="3.1"/><circle cx="1356" cy="1061" r="3.1"/>
</g>
</g>
<line x1="110" y1="913.5" x2="110" y2="1209" stroke="#3e6f6e" stroke-width="2.2"/>
<line x1="117" y1="914" x2="117" y2="1209" stroke="#3e6f6e" stroke-width="14" stroke-dasharray="1.6 4.26"/>
<line x1="126.8" y1="914" x2="126.8" y2="1209" stroke="#000" stroke-width="6" stroke-dasharray="1.6 4.26"/>
<g stroke="#3e6f6e" stroke-width="2">
<line x1="110" y1="914.8" x2="137" y2="914.8"/><line x1="110" y1="973.4" x2="137" y2="973.4"/><line x1="110" y1="1032" x2="137" y2="1032"/><line x1="110" y1="1090.6" x2="137" y2="1090.6"/><line x1="110" y1="1149.2" x2="137" y2="1149.2"/><line x1="110" y1="1207.8" x2="137" y2="1207.8"/>
</g>
<g stroke="#000" stroke-dasharray="2.4 79.94">
<line x1="141.8" y1="918" x2="1426" y2="918" stroke-width="6"/>
<line x1="183" y1="916.5" x2="1426" y2="916.5" stroke-width="3"/>
</g>
<line x1="1426" y1="913.5" x2="1426" y2="1209" stroke="#6d4c9f" stroke-width="2"/>
<g stroke="#6d4c9f" stroke-width="1.8">
<line x1="1401" y1="988.5" x2="1426" y2="988.5"/><line x1="1401" y1="1061.6" x2="1426" y2="1061.6"/>
</g>
<g font-size="21" fill="#3e6f6e" text-anchor="end" dominant-baseline="central">
<text x="101" y="924">50</text><text x="101" y="976">40</text><text x="101" y="1034.7">30</text><text x="101" y="1093.6">20</text><text x="101" y="1151.3">10</text><text x="101" y="1199.5">0</text>
</g>
<g font-size="21" fill="#6d4c9f" dominant-baseline="central">
<text x="1436" y="924.6">360</text><text x="1436" y="990">270</text><text x="1436" y="1063.5">180</text><text x="1436" y="1136">90</text><text x="1436" y="1199.5">0</text>
</g>
<text transform="translate(42,1062) rotate(-90)" text-anchor="middle" dominant-baseline="central" font-size="22" textLength="261" lengthAdjust="spacingAndGlyphs" fill="#3e6f6e">Скорость ветра (km/h)</text>
<text transform="translate(1498,1068.5) rotate(-90)" text-anchor="middle" dominant-baseline="central" font-size="22" textLength="227" lengthAdjust="spacingAndGlyphs" fill="#6d4c9f">Направление ветра</text>
<text transform="translate(1496,943) rotate(-90)" text-anchor="middle" dominant-baseline="central" font-size="20" fill="#6d4c9f">°</text>
<g stroke="#6d4c9f" stroke-width="4" fill="none">
<line x1="1544.5" y1="880" x2="1544.5" y2="904"/>
<line x1="1522" y1="988.5" x2="1554" y2="988.5"/>
<line x1="1544.5" y1="1074" x2="1544.5" y2="1097"/>
<line x1="1535" y1="1135" x2="1566.6" y2="1135"/>
<line x1="1544.5" y1="1172" x2="1544.5" y2="1196"/>
</g>
<g fill="#6d4c9f">
<polygon points="1538,900 1551,900 1544.5,916"/>
<polygon points="1551,982 1551,995 1567,988.5"/>
<polygon points="1538,1077 1551,1077 1544.5,1061.6"/>
<polygon points="1538,1128.5 1538,1141.5 1522,1135"/>
<polygon points="1538,1192 1551,1192 1544.5,1208"/>
</g>
</svg>
</body></html>
